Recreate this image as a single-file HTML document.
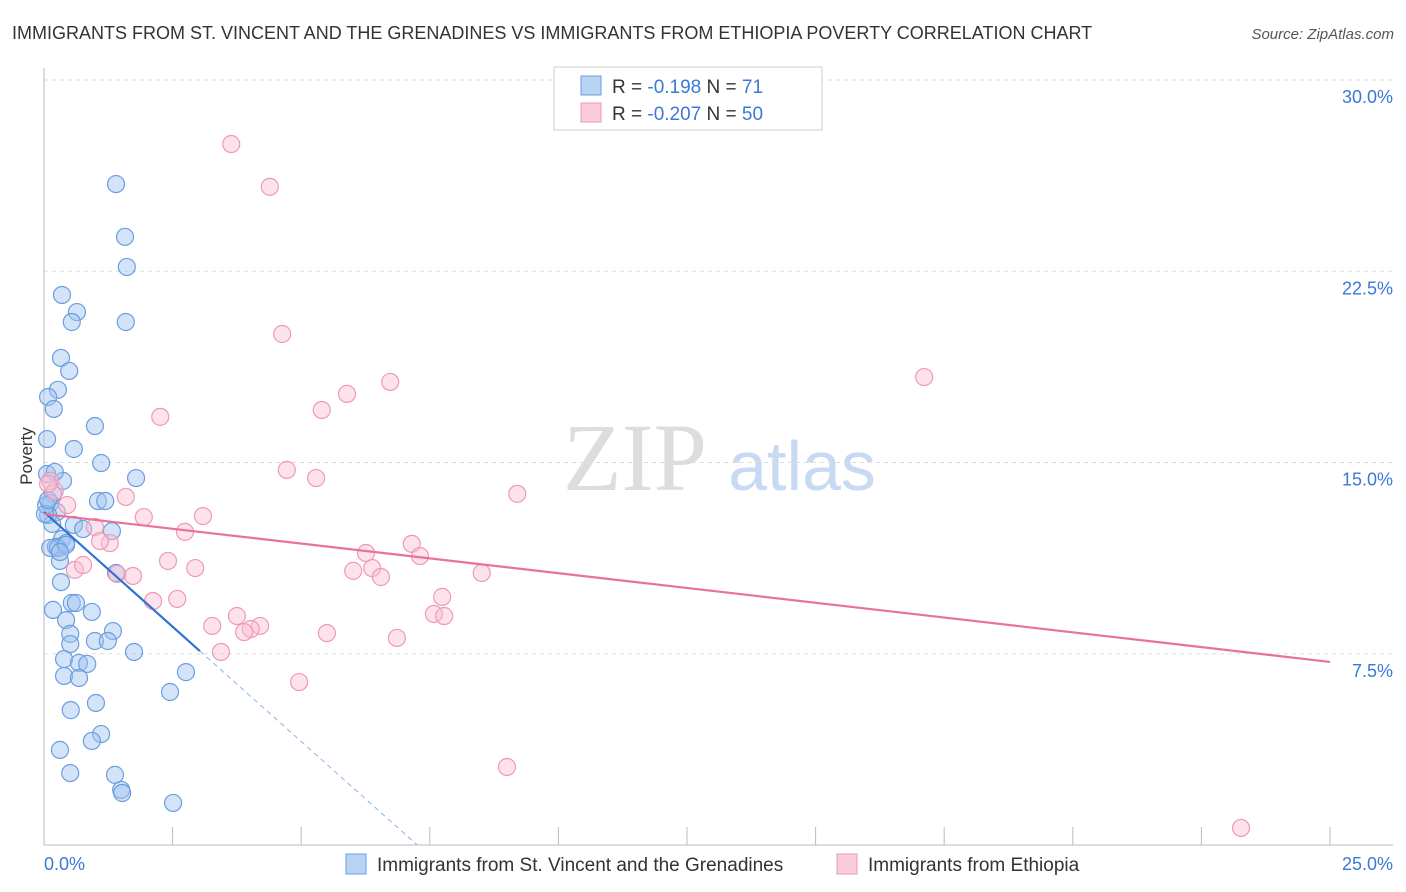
<!DOCTYPE html>
<html><head><meta charset="utf-8">
<style>
body{margin:0;background:#fff;font-family:"Liberation Sans",sans-serif;}
svg{display:block}
</style></head>
<body>
<svg id="chart" width="1406" height="892">
<text x="12" y="39" font-size="18" fill="#333">IMMIGRANTS FROM ST. VINCENT AND THE GRENADINES VS IMMIGRANTS FROM ETHIOPIA POVERTY CORRELATION CHART</text>
<text x="1394" y="39" font-size="15" fill="#555" font-style="italic" text-anchor="end">Source: ZipAtlas.com</text>
<text x="32" y="456" font-size="17" fill="#333" text-anchor="middle" transform="rotate(-90 32 456)">Poverty</text>
<g>
<text x="635" y="490" font-size="96" fill="#ddd" font-family="Liberation Serif,serif" text-anchor="middle">ZIP</text>
<text x="802" y="490" font-size="70" fill="#c8daf2" text-anchor="middle">atlas</text>
</g>
<g id="grid"></g>
<g id="axes"></g>
<g id="marks"></g>
<g>
<rect x="554" y="67" width="268" height="63" fill="#fff" stroke="#ccc"/>
<rect x="581" y="76" width="20" height="19" fill="#b9d3f5" stroke="#6b9de0"/>
<rect x="581" y="103" width="20" height="19" fill="#fbcbd9" stroke="#ee9ab4"/>
<text x="612" y="93" font-size="19" fill="#333">R = <tspan fill="#3b78d8">-0.198</tspan>   N = <tspan fill="#3b78d8"> 71</tspan></text>
<text x="612" y="120" font-size="19" fill="#333">R = <tspan fill="#3b78d8">-0.207</tspan>   N = <tspan fill="#3b78d8">50</tspan></text>
</g>
<g>
<rect x="346" y="854" width="20" height="20" fill="#b9d3f5" stroke="#6b9de0"/>
<text x="377" y="871" font-size="19" fill="#333">Immigrants from St. Vincent and the Grenadines</text>
<rect x="837" y="854" width="20" height="20" fill="#fbcbd9" stroke="#ee9ab4"/>
<text x="868" y="871" font-size="19" fill="#333">Immigrants from Ethiopia</text>
</g>
</svg>
<script>
const blueX=[1.40,1.575,1.61,0.35,0.64,0.54,1.59,0.33,0.49,0.27,0.08,0.19,0.99,0.06,0.58,1.11,1.79,0.37,0.175,1.05,1.19,0.12,0.25,0.08,0.16,0.58,0.76,1.32,0.35,0.43,0.23,0.31,1.40,0.33,0.54,0.62,0.175,0.93,0.43,0.51,1.34,0.99,1.24,0.51,1.75,0.39,0.68,0.84,0.39,0.68,2.76,2.45,1.01,0.52,1.11,0.93,0.31,0.51,1.38,1.50,1.52,2.51,0.04,0.12,0.27,0.06,0.21,0.02,0.43,0.31,0.08];
const blueY=[25.92,23.85,22.67,21.57,20.90,20.51,20.51,19.10,18.59,17.85,17.57,17.10,16.43,15.92,15.53,14.98,14.39,14.28,13.77,13.49,13.49,13.41,13.06,12.94,12.59,12.55,12.39,12.31,12.00,11.84,11.69,11.14,10.67,10.31,9.49,9.49,9.22,9.14,8.82,8.28,8.39,8.00,8.00,7.88,7.57,7.29,7.14,7.10,6.63,6.55,6.78,6.00,5.57,5.29,4.35,4.08,3.73,2.82,2.75,2.16,2.04,1.65,13.33,11.65,11.65,14.55,14.63,12.98,11.77,11.49,13.53];
const pinkX=[3.64,4.39,4.63,17.11,6.73,5.89,5.40,2.26,4.72,5.29,9.20,0.12,0.21,0.45,1.59,3.09,1.94,0.99,2.74,1.28,1.09,7.15,6.26,7.31,6.38,2.41,2.94,6.01,6.55,8.51,0.60,0.76,1.73,1.42,2.12,2.59,7.74,7.58,7.78,3.75,3.27,4.20,4.02,3.89,5.50,6.86,3.44,4.96,9.00,23.27,0.08];
const pinkY=[27.49,25.81,20.04,18.35,18.16,17.69,17.06,16.79,14.71,14.39,13.77,14.28,13.88,13.33,13.65,12.90,12.86,12.47,12.28,11.84,11.92,11.81,11.45,11.33,10.86,11.14,10.86,10.75,10.51,10.67,10.79,10.98,10.55,10.63,9.57,9.65,9.73,9.06,8.98,8.98,8.59,8.59,8.47,8.35,8.31,8.12,7.57,6.39,3.06,0.67,14.16];
const yTicks=[7.5,15.0,22.5,30.0];
const xTickCount=10;
const blueTrend=[13.06,-1.8],blueSolidEnd=3.03;
const pinkTrend=[12.98,-0.232];

const NS="http://www.w3.org/2000/svg";
const X0=44,X1=1330,Y0=845,Y30=80;
const sx=v=>X0+(v/25)*(X1-X0);
const sy=v=>Y0-(v/30)*(Y0-Y30);
function mk(tag,attrs,parent){const e=document.createElementNS(NS,tag);for(const k in attrs)e.setAttribute(k,attrs[k]);document.getElementById(parent).appendChild(e);return e;}

yTicks.forEach(t=>{
  const g=mk('line',{x1:X0,x2:1393,y1:sy(t),y2:sy(t),stroke:'#ddd','stroke-dasharray':'4,4'},'grid');
  
  
  const l=mk('text',{x:1393,y:sy(t)+23,'font-size':18,fill:'#3b78d8','text-anchor':'end'},'grid');
  l.textContent=t.toFixed(1)+'%';
  
  
});
const ax=mk('line',{x1:X0,x2:X0,y1:68,y2:Y0,stroke:'#bbb'},'axes');


const bx=mk('line',{x1:X0,x2:1393,y1:Y0,y2:Y0,stroke:'#bbb'},'axes');


for(let i=1;i<=xTickCount;i++){
  const tk=mk('line',{x1:sx(i*2.5),x2:sx(i*2.5),y1:Y0-18,y2:Y0,stroke:'#bbb'},'axes');
  
  
}
const xl0=mk('text',{x:X0,y:870,'font-size':18,fill:'#3b78d8'},'axes');xl0.textContent='0.0%';


const xl1=mk('text',{x:1393,y:870,'font-size':18,fill:'#3b78d8','text-anchor':'end'},'axes');xl1.textContent='25.0%';



blueX.forEach((x,i)=>{
  const c=mk('circle',{cx:sx(x),cy:sy(blueY[i]),r:8.5,fill:'rgba(160,195,240,0.45)',stroke:'#6b9de0','stroke-width':1.2},'marks');
  
  
});
pinkX.forEach((x,i)=>{
  const c=mk('circle',{cx:sx(x),cy:sy(pinkY[i]),r:8.5,fill:'rgba(250,190,210,0.45)',stroke:'#ee9ab4','stroke-width':1.2},'marks');
  
  
});
const bf=x=>blueTrend[0]+blueTrend[1]*x;
const bl=mk('line',{x1:sx(0),y1:sy(bf(0)),x2:sx(blueSolidEnd),y2:sy(bf(blueSolidEnd)),stroke:'#2f72d6','stroke-width':2.2},'marks');


const xz=-blueTrend[0]/blueTrend[1];
const bd=mk('line',{x1:sx(blueSolidEnd),y1:sy(bf(blueSolidEnd)),x2:sx(xz),y2:sy(0),stroke:'#8fb3e8','stroke-width':1,'stroke-dasharray':'5,4'},'marks');


const pf=x=>pinkTrend[0]+pinkTrend[1]*x;
const pl=mk('line',{x1:sx(0),y1:sy(pf(0)),x2:sx(25),y2:sy(pf(25)),stroke:'#e8739a','stroke-width':2.2},'marks');


</script>
</body></html>
